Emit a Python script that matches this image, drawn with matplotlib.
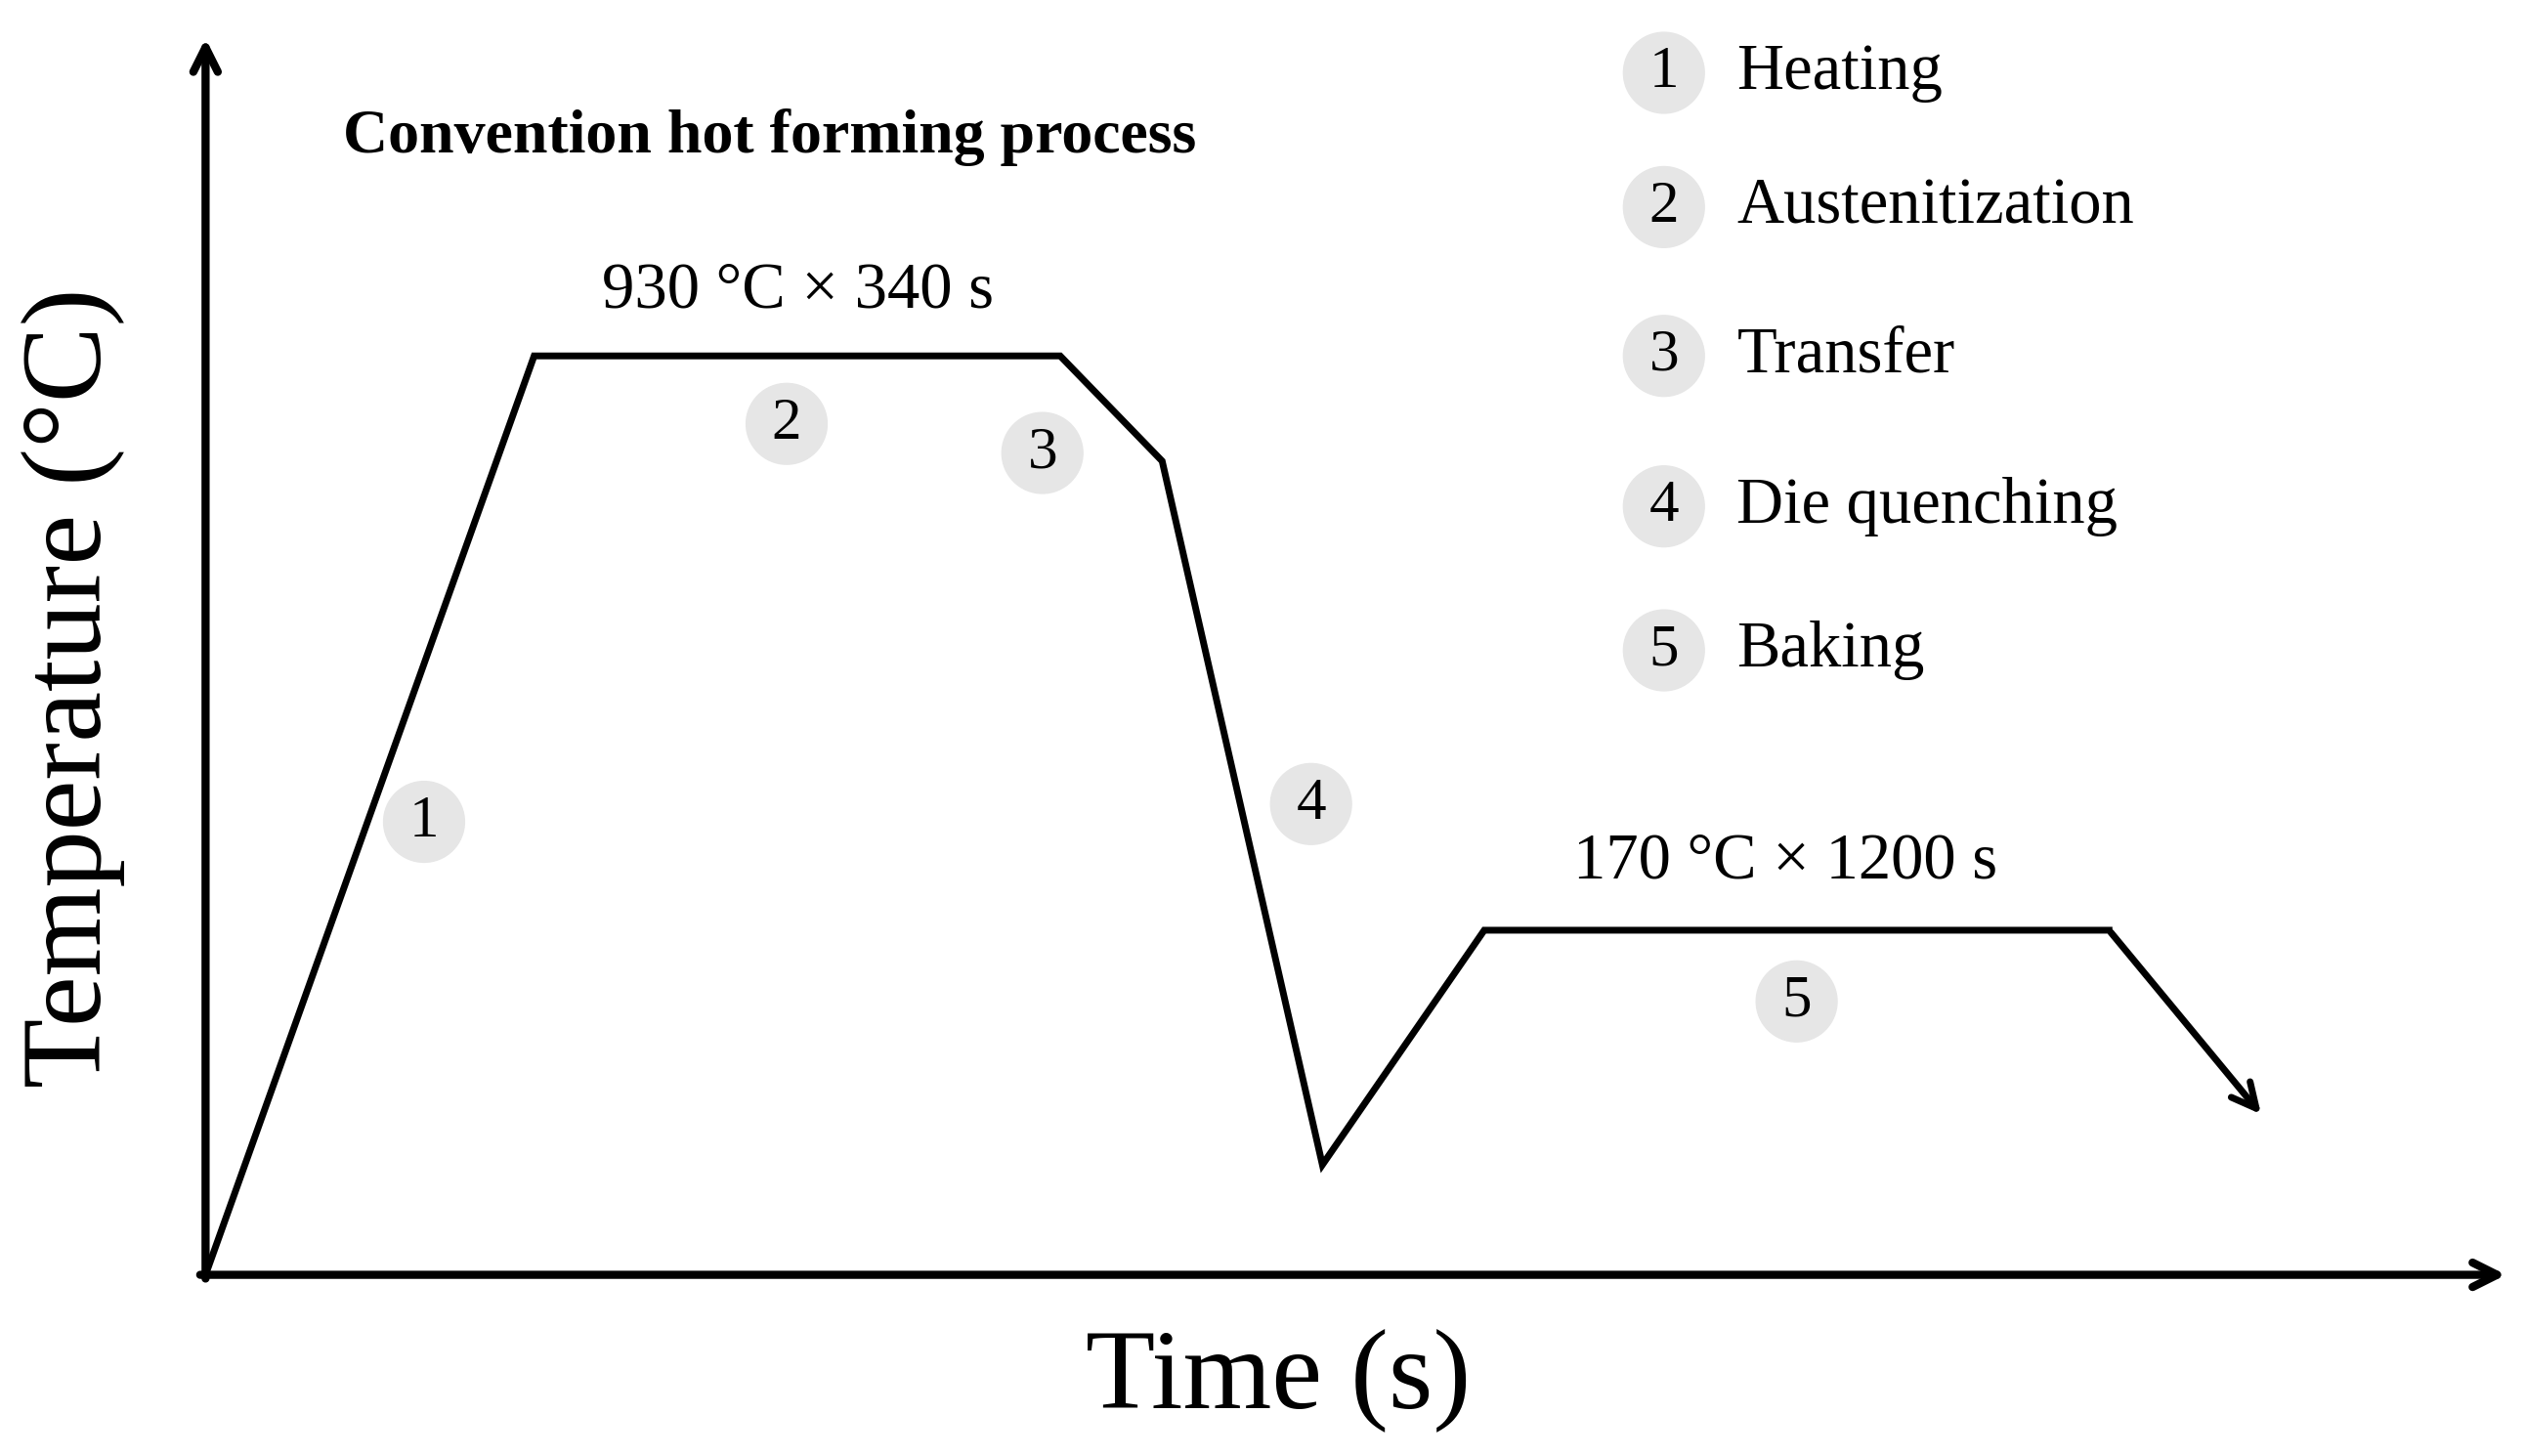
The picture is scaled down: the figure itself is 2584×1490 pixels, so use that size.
import matplotlib.pyplot as plt
from matplotlib.patches import Circle

plt.rcParams["font.family"] = ["Liberation Serif", "DejaVu Serif"]

# Schematic profile in drawing units (x to the right, y downward)
profile_x = [127, 330, 655, 718, 817, 917, 1303, 1398]
profile_y = [788, 220, 220, 285, 720, 575, 575, 690]

step_ids = ["1", "2", "3", "4", "5"]
step_x = [262, 486, 644, 810, 1110]
step_y = [508, 262, 280, 497, 619]

legend_ids = ["1", "2", "3", "4", "5"]
legend_names = ["Heating", "Austenitization", "Transfer", "Die quenching", "Baking"]
legend_y = [45, 128, 220, 313, 402]

fig = plt.figure(figsize=(25.84, 14.9), dpi=100)
ax = fig.add_axes([0, 0, 1, 1])
ax.set_xlim(0, 1560)
ax.set_ylim(900, 0)
ax.axis("off")

lw = 6
head = "->,head_length=1.8,head_width=0.9"
# axes arrows
ax.annotate("", xy=(1550, 788), xytext=(122, 788),
            arrowprops=dict(arrowstyle=head, lw=lw, color="black"))
ax.annotate("", xy=(127, 22), xytext=(127, 792),
            arrowprops=dict(arrowstyle=head, lw=lw, color="black"))

ax.plot(profile_x[:-1], profile_y[:-1], color="black", lw=lw - 1, solid_joinstyle="miter")
ax.annotate("", xy=(profile_x[-1], profile_y[-1]), xytext=(profile_x[-2], profile_y[-2]),
            arrowprops=dict(arrowstyle=head, lw=lw - 1, color="black"))

def badge(x, y, s):
    ax.add_patch(Circle((x, y), 25, color="#e6e6e6", zorder=2))
    ax.text(x, y, s, ha="center", va="center", fontsize=44, zorder=3)

for s, x, y in zip(step_ids, step_x, step_y):
    badge(x, y, s)

for s, name, y in zip(legend_ids, legend_names, legend_y):
    badge(1028, y, s)
    ax.text(1073, y, name, ha="left", va="center", fontsize=48)

ax.text(212, 85, "Convention hot forming process", fontsize=46, fontweight="bold",
        ha="left", va="center")
ax.text(493, 180, "930 °C × 340 s", fontsize=48, ha="center", va="center")
ax.text(1103, 533, "170 °C × 1200 s", fontsize=48, ha="center", va="center")
ax.text(790, 853, "Time (s)", fontsize=84, ha="center", va="center")
ax.text(45, 425, "Temperature (°C)", fontsize=84, ha="center", va="center", rotation=90)

fig.savefig("out.png", dpi=100, facecolor="white")
